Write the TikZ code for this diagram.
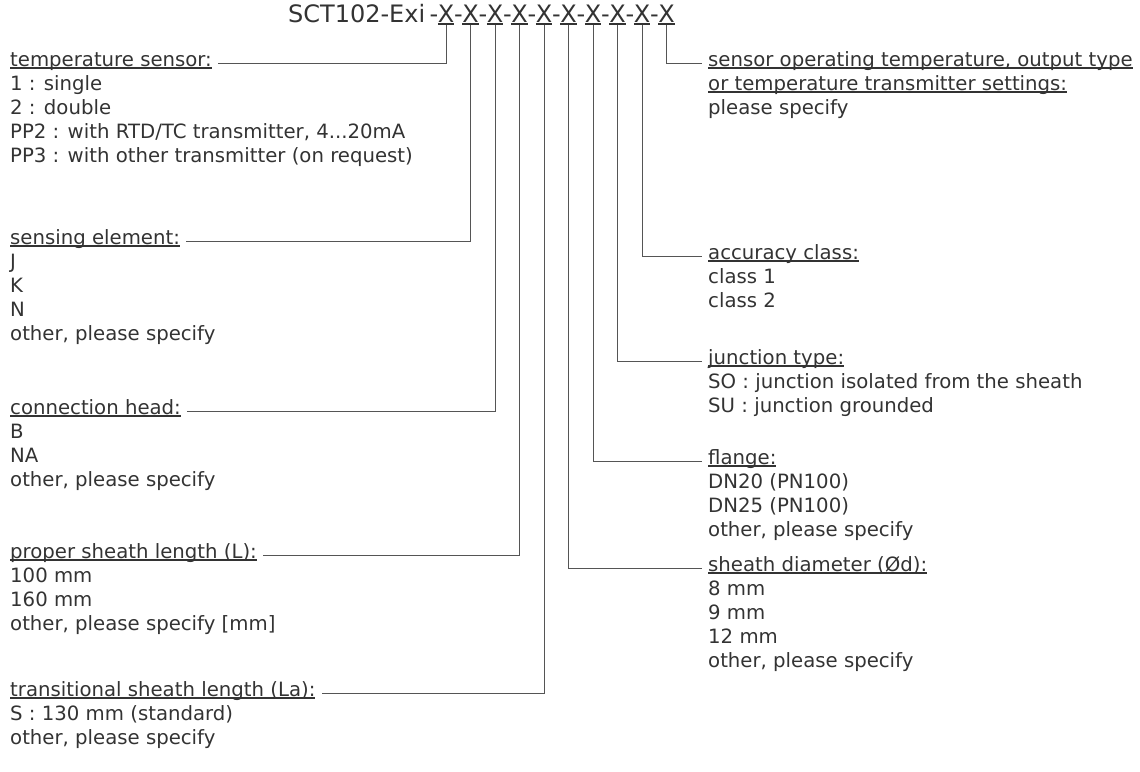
\documentclass[tikz,border=0pt]{standalone}
\usepackage{fontspec}
\setmainfont{DejaVu Sans}
\usetikzlibrary{positioning}
\definecolor{inkgray}{RGB}{51,51,51}
\definecolor{wiregray}{RGB}{85,85,85}
\newcommand{\undl}[1]{\setbox0\hbox{#1}\rlap{\rule[-3pt]{\wd0}{1.6pt}}\box0}

\begin{document}
\begin{tikzpicture}[x=1pt, y=-1pt,
    code/.style={inner sep=0pt, font=\fontsize{24}{28}\selectfont, text=inkgray},
    head/.style={inner xsep=6pt, inner ysep=0pt, font=\fontsize{19.7}{24}\selectfont, text=inkgray},
    list/.style={head},
    wire/.style={draw=wiregray, line width=1pt}]
  \useasboundingbox (0,0) rectangle (1140,771);

  % order code
  \foreach \i in {1,...,10} {
    \node[code, anchor=base] (x\i) at ({446+24.5*(\i-1)},22) {\undl{X}};
    \node[code, anchor=base] (h\i) at ({434+24.5*(\i-1)},22) {-};
  }
  \node[code, anchor=base east] (code) at ([xshift=-4pt]h1.base west) {SCT102-Exi};

  % left column
  \node[head, anchor=base west] (tsens) at (4,66) {\undl{temperature sensor:}};
  \node[list, anchor=base west] (tsens-list) at ([yshift=-24pt]tsens.base west) {\begin{tabular}[t]{@{}l@{}}1 : single\\ 2 : double\\ PP2 : with RTD/TC transmitter, 4...20mA\\ PP3 : with other transmitter (on request)\end{tabular}};

  \node[head, anchor=base west] (selem) at (4,244) {\undl{sensing element:}};
  \node[list, anchor=base west] (selem-list) at ([yshift=-24pt]selem.base west) {\begin{tabular}[t]{@{}l@{}}J\\ K\\ N\\ other, please specify\end{tabular}};

  \node[head, anchor=base west] (chead) at (4,414) {\undl{connection head:}};
  \node[list, anchor=base west] (chead-list) at ([yshift=-24pt]chead.base west) {\begin{tabular}[t]{@{}l@{}}B\\ NA\\ other, please specify\end{tabular}};

  \node[head, anchor=base west] (psl) at (4,558) {\undl{proper sheath length (L):}};
  \node[list, anchor=base west] (psl-list) at ([yshift=-24pt]psl.base west) {\begin{tabular}[t]{@{}l@{}}100 mm\\ 160 mm\\ other, please specify [mm]\end{tabular}};

  \node[head, anchor=base west] (tsl) at (4,696) {\undl{transitional sheath length (La):}};
  \node[list, anchor=base west] (tsl-list) at ([yshift=-24pt]tsl.base west) {\begin{tabular}[t]{@{}l@{}}S : 130 mm (standard)\\ other, please specify\end{tabular}};

  % right column
  \node[head, anchor=base west] (sot) at (702,66) {\undl{sensor operating temperature, output type}};
  \node[list, anchor=base west] (sot-list) at ([yshift=-24pt]sot.base west) {\begin{tabular}[t]{@{}l@{}}\undl{or temperature transmitter settings:}\\ please specify\end{tabular}};

  \node[head, anchor=base west] (acc) at (702,259) {\undl{accuracy class:}};
  \node[list, anchor=base west] (acc-list) at ([yshift=-24pt]acc.base west) {\begin{tabular}[t]{@{}l@{}}class 1\\ class 2\end{tabular}};

  \node[head, anchor=base west] (jtype) at (702,364) {\undl{junction type:}};
  \node[list, anchor=base west] (jtype-list) at ([yshift=-24pt]jtype.base west) {\begin{tabular}[t]{@{}l@{}}SO : junction isolated from the sheath\\ SU : junction grounded\end{tabular}};

  \node[head, anchor=base west] (flange) at (702,464) {\undl{flange:}};
  \node[list, anchor=base west] (flange-list) at ([yshift=-24pt]flange.base west) {\begin{tabular}[t]{@{}l@{}}DN20 (PN100)\\ DN25 (PN100)\\ other, please specify\end{tabular}};

  \node[head, anchor=base west] (sdia) at (702,571) {\undl{sheath diameter (Ød):}};
  \node[list, anchor=base west] (sdia-list) at ([yshift=-24pt]sdia.base west) {\begin{tabular}[t]{@{}l@{}}8 mm\\ 9 mm\\ 12 mm\\ other, please specify\end{tabular}};

  % leaders
  \draw[wire] (x1.south) |- (tsens.mid east);
  \draw[wire] (x2.south) |- (selem.mid east);
  \draw[wire] (x3.south) |- (chead.mid east);
  \draw[wire] (x4.south) |- (psl.mid east);
  \draw[wire] (x5.south) |- (tsl.mid east);
  \draw[wire] (x6.south) |- (sdia.mid west);
  \draw[wire] (x7.south) |- (flange.mid west);
  \draw[wire] (x8.south) |- (jtype.mid west);
  \draw[wire] (x9.south) |- (acc.mid west);
  \draw[wire] (x10.south) |- (sot.mid west);
\end{tikzpicture}
\end{document}
